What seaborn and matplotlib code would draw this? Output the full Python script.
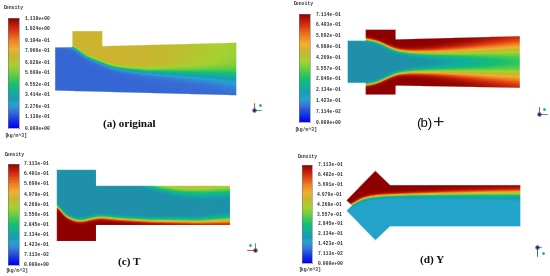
import numpy as np
import matplotlib
matplotlib.use('Agg')
import matplotlib.pyplot as plt
from matplotlib.colors import LinearSegmentedColormap
from matplotlib.patches import Polygon
from matplotlib.path import Path
import seaborn as sns

W, H = 550, 276

# colour bar labels
labels_a = ['1.138e+00', '1.024e+00', '9.104e-01', '7.966e-01', '6.828e-01', '5.690e-01',
            '4.552e-01', '3.414e-01', '2.276e-01', '1.138e-01', '0.000e+00']
labels_b = ['7.114e-01', '6.403e-01', '5.692e-01', '4.980e-01', '4.269e-01', '3.557e-01',
            '2.846e-01', '2.134e-01', '1.423e-01', '7.114e-02', '0.000e+00']
labels_c = ['7.113e-01', '6.401e-01', '5.690e-01', '4.979e-01', '4.268e-01', '3.556e-01',
            '2.845e-01', '2.134e-01', '1.423e-01', '7.113e-02', '0.000e+00']
labels_d = ['7.113e-01', '6.402e-01', '5.691e-01', '4.979e-01', '4.268e-01', '3.557e-01',
            '2.845e-01', '2.134e-01', '1.423e-01', '7.113e-02', '0.000e+00']

# (a) outline in pixels
a_outline = [(54.7, 47), (72, 46.7), (72, 30.7), (102.7, 30.7), (102.7, 45.7), (236.7, 42.3),
             (236.7, 95.7), (54.7, 91)]
a_core = 0.155
a_x = [54, 72, 87, 100, 113, 127, 147, 167, 187, 207, 237]
a_iface = [43, 46, 57, 62, 67, 69, 71, 71.5, 72.5, 73.5, 76]
a_width = [0.9, 0.9, 0.9, 1.0, 1.1, 1.3, 1.7, 2.3, 3.0, 3.6, 5.0]
a_upper = [0.76, 0.76, 0.76, 0.76, 0.76, 0.75, 0.75, 0.73, 0.70, 0.67, 0.63]

# (b)
b_outline = [(347.3, 40.3), (365.3, 40.3), (365.3, 29.3), (396, 29.3), (396, 39), (520.3, 35.7),
             (520.3, 88.3), (396, 86), (396, 95), (365.3, 95), (365.3, 83.3), (347.3, 83.3)]
b_core = 0.185
b_x = [347, 366, 378, 388, 398, 412, 432, 455, 475, 520]
b_iface_top = [38, 39.3, 41.7, 46.7, 50.7, 52.3, 52.7, 52.3, 51.7, 50]
b_iface_low = [85, 85, 82.3, 77.3, 73.3, 72, 71.7, 72, 72.7, 74]
b_width = [0.8, 0.8, 0.8, 0.9, 1.0, 1.3, 1.9, 2.8, 3.8, 6.0]
b_upper = [0.711, 0.711, 0.711, 0.711, 0.711, 0.711, 0.711, 0.711, 0.711, 0.70]

# (c)
c_outline = [(56.3, 168.7), (96.3, 168.7), (96.3, 185), (229.7, 185), (229.7, 225), (96.3, 225),
             (96.3, 241.3), (56.3, 241.3)]
c_core = 0.185
c_x = [56, 62, 70, 80, 90, 100, 117, 150, 200, 230]
c_iface_low = [203, 213, 218.7, 221.3, 219, 217, 218.7, 220.7, 221.5, 220]
c_width_low = [0.9, 0.9, 0.9, 0.9, 0.9, 1.0, 1.0, 1.1, 1.4, 2.0]
c_lower = [0.711, 0.711, 0.711, 0.711, 0.711, 0.711, 0.711, 0.711, 0.711, 0.70]
c_x_top = [143, 160, 180, 200, 230]
c_iface_top = [185, 188, 190.7, 191.3, 190.3]
c_width_top = [1.2, 1.4, 2.0, 2.4, 2.6]
c_upper = [0.30, 0.44, 0.48, 0.49, 0.46]

# (d)
d_outline = [(346, 200.3), (375.3, 170.3), (390.3, 184.7), (520.7, 184.7), (520.7, 226.7),
             (390.3, 226.7), (375.3, 240.7), (346, 210.7), (351.3, 205.7)]
d_core = 0.155
d_x = [346, 351, 358, 368, 382, 408, 442, 475, 521]
d_iface = [207, 205.7, 200.7, 197.3, 195.7, 194.7, 194, 193.5, 193]
d_width = [0.8, 0.8, 0.8, 0.9, 0.9, 1.0, 1.3, 1.6, 2.0]
d_upper = [0.711, 0.711, 0.711, 0.711, 0.711, 0.711, 0.711, 0.711, 0.711]

sns.set_theme(style='white')
plt.rcParams['font.family'] = ['Liberation Sans', 'DejaVu Sans']


def make_cmap(teal):
    return LinearSegmentedColormap.from_list('fluent', [
        (0.00, '#0000f0'), (0.10, '#1f4fe0'), (0.14, '#3a6cd2'), (0.18, '#2f8ed8'), (0.22, '#22a6c8'),
        (0.26, teal), (0.31, '#12aaa8'), (0.40, '#14c070'), (0.50, '#6ecf3c'), (0.57, '#a8d030'),
        (0.66, '#c8b42e'), (0.72, '#f0b030'), (0.80, '#f08020'), (0.90, '#d83010'), (1.00, '#8e0000')])


cmap = make_cmap('#1a9ab5')
cmap_dark = make_cmap('#1f8fa8')

fig = plt.figure(figsize=(W / 100, H / 100), dpi=100)
fig.patch.set_facecolor('white')


def px_axes(x0, y0, x1, y1, zorder=1):
    return fig.add_axes([x0 / W, 1 - y1 / H, (x1 - x0) / W, (y1 - y0) / H], zorder=zorder)


def sigmoid(t):
    return 1 / (1 + np.exp(-np.clip(t, -30, 30)))


def smooth(v, n=11):
    # take the kinks out between the read stations
    pad = np.r_[np.full(n // 2, v[0]), v, np.full(n // 2, v[-1])]
    return np.convolve(pad, np.ones(n) / n, mode='valid')


def draw_field(outline, core, vmax, layers, field_cmap):
    xs, ys = zip(*outline)
    # one grid cell per picture pixel
    x0, x1, y0, y1 = int(min(xs)), int(max(xs)) + 1, int(min(ys)), int(max(ys)) + 1
    gx = np.arange(x0, x1) + 0.5
    gy = np.arange(y0, y1) + 0.5
    xx, yy = np.meshgrid(gx, gy)
    field = np.full(xx.shape, core, dtype=float)
    for x, iface, width, value, side in layers:
        i = smooth(np.interp(gx, x, iface))
        w = smooth(np.interp(gx, x, width))
        v = np.interp(gx, x, value, left=core)
        s = sigmoid(side * (yy - i) / w)
        field = field + (v - core) * s
    inside = Path(outline).contains_points(np.c_[xx.ravel(), yy.ravel()]).reshape(xx.shape)
    ax = px_axes(x0, y0, x1, y1)
    sns.heatmap(field, mask=~inside, vmin=0, vmax=vmax, cmap=field_cmap, cbar=False,
                xticklabels=False, yticklabels=False, ax=ax)
    ax.patch.set_alpha(0)
    # soft rim to take the stairs off the mask
    over.add_patch(Polygon(outline, closed=True, fill=False, ec='white', lw=0.8, alpha=0.8))


def draw_bar(x0, y0, x1, y1, labels, label_x, title_x, title_y, unit_y):
    vmax = float(labels[0])
    ramp = np.linspace(vmax, 0, 220).reshape(-1, 1)
    ax = px_axes(x0, y0, x1, y1)
    sns.heatmap(ramp, vmin=0, vmax=vmax, cmap=cmap, cbar=False,
                xticklabels=False, yticklabels=False, ax=ax)
    for s in ax.spines.values():
        s.set_visible(True)
        s.set_color('#777777')
        s.set_linewidth(0.4)
    small = dict(fontsize=3.4, family='Liberation Mono', weight='bold', va='center', ha='left',
                 color='#3a3a3a')
    for i, lab in enumerate(labels):
        y = y0 + (y1 - y0) * i / (len(labels) - 1)
        over.text(label_x, y, lab, **small)
    over.text(title_x, title_y, 'Density', **small)
    over.text(title_x, unit_y, '[kg/m^3]', **small)


def draw_triad(x, y, dx, dy, col_x, col_y, dot):
    over.plot([x, x + dx], [y, y], color=col_x, lw=0.6)
    over.plot([x, x], [y, y + dy], color=col_y, lw=0.6)
    over.plot([x], [y], 'o', ms=2.8, mfc='none', mec='#555555', mew=0.4)
    over.plot([x], [y], 'o', ms=1.2, color='#202080')
    over.plot([dot[0]], [dot[1]], 'o', ms=1.0, color='#20b0a0')


over = fig.add_axes([0, 0, 1, 1], zorder=5)
over.set_xlim(0, W)
over.set_ylim(H, 0)
over.axis('off')
over.patch.set_alpha(0)

draw_bar(8, 18, 19, 128, labels_a, 25, 4, 8, 135)
draw_bar(298.7, 14, 310, 122, labels_b, 315.7, 294, 4, 129)
draw_bar(8.3, 163.7, 19.3, 264.7, labels_c, 24, 5, 154.7, 270.7)
draw_bar(302, 164.7, 312.3, 263.3, labels_d, 317.3, 298, 156.3, 269)

draw_field(a_outline, a_core, float(labels_a[0]), [(a_x, a_iface, a_width, a_upper, -1)], cmap)
draw_field(b_outline, b_core, float(labels_b[0]),
           [(b_x, b_iface_top, b_width, b_upper, -1), (b_x, b_iface_low, b_width, b_upper, 1)], cmap_dark)
draw_field(c_outline, c_core, float(labels_c[0]),
           [(c_x, c_iface_low, c_width_low, c_lower, 1), (c_x_top, c_iface_top, c_width_top, c_upper, -1)],
           cmap_dark)
draw_field(d_outline, d_core, float(labels_d[0]), [(d_x, d_iface, d_width, d_upper, -1)], cmap)

serif = dict(fontsize=8, family='Liberation Serif', weight='bold', ha='center', va='center',
             color='#111111')
over.text(129, 124, '(a) original', **serif)
over.text(129, 262, '(c) T', **serif)
over.text(432, 260, '(d) Y', **serif)
over.text(424, 124, '(b)', fontsize=9.5, family='Liberation Sans', ha='center', va='center',
          color='#111111')
over.text(439, 123, '+', fontsize=14, family='Liberation Sans', ha='center', va='center',
          color='#222222', weight='light')

draw_triad(254, 110, 7, -7, '#20a040', '#d02020', (260, 105))
draw_triad(538.5, 114, 8, -7, '#20a040', '#d02020', (544, 109))
draw_triad(255, 250, -8, -7, '#d02020', '#20a040', (250, 245))
draw_triad(537, 247, 4, 9, '#20a040', '#3040d0', (543, 253))

fig.savefig('out.png', dpi=100)
